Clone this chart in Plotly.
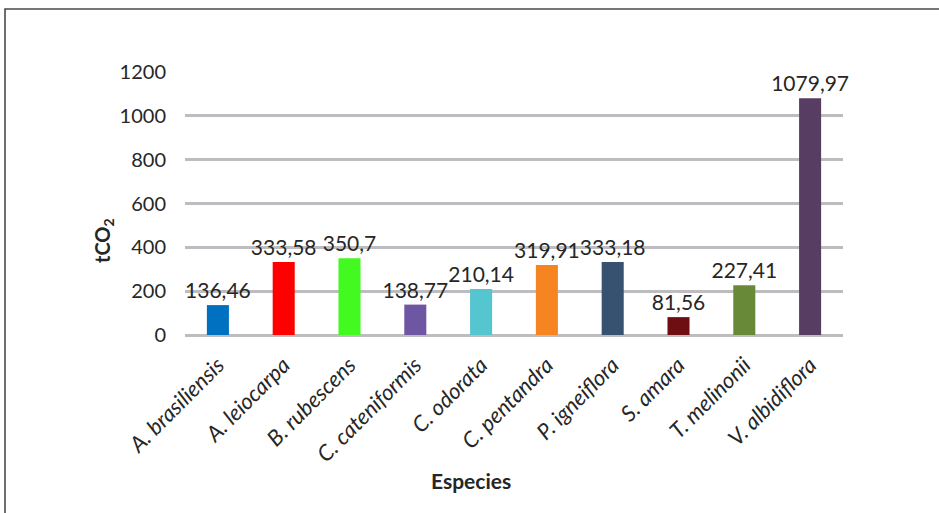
import plotly.graph_objects as go

# Carbon stock per species (tCO2)
especies = [
    "A. brasiliensis", "A. leiocarpa", "B. rubescens", "C. cateniformis",
    "C. odorata", "C. pentandra", "P. igneiflora", "S. amara",
    "T. melinonii", "V. albidiflora",
]
tco2 = [136.46, 333.58, 350.7, 138.77, 210.14, 319.91, 333.18, 81.56, 227.41, 1079.97]
colores = [
    "#0070C0", "#FF0000", "#42FA1F", "#6F56A3", "#55C5CF",
    "#F68421", "#375170", "#6E0E12", "#688A38", "#573D62",
]
y_ticks = [0, 200, 400, 600, 800, 1000, 1200]

W, H = 939, 513
ML, MR, MT, MB = 185, 96, 72, 178
pw, ph = W - ML - MR, H - MT - MB


def etiqueta(v):
    s = f"{v:.2f}".rstrip("0").rstrip(".")
    return s.replace(".", ",")


FONT = "Lato, Calibri, Carlito, sans-serif"
TXT = "#262626"

fig = go.Figure(
    go.Bar(
        x=especies,
        y=tco2,
        marker=dict(color=colores, line=dict(width=0)),
        text=[etiqueta(v) for v in tco2],
        textposition="outside",
        constraintext="none",
        textfont=dict(family=FONT, size=21, color=TXT),
        cliponaxis=False,
        hoverinfo="x+y",
    )
)


# pixel -> paper coordinate helpers
def px_x(x):
    return (x - ML) / pw


def px_y(y):
    return (H - MB - y) / ph


# outer chart frame (runs past the right and bottom edges of the page)
fig.add_shape(
    type="rect", xref="paper", yref="paper",
    x0=px_x(5), x1=px_x(W + 10), y0=px_y(H + 10), y1=px_y(9),
    line=dict(color="#4a4a4a", width=1.6), fillcolor="rgba(0,0,0,0)", layer="below",
)

# axis titles
fig.add_annotation(
    xref="paper", yref="paper", x=px_x(471), y=px_y(495),
    text="<b>Especies</b>", showarrow=False,
    font=dict(family=FONT, size=21, color=TXT),
)
fig.add_annotation(
    xref="paper", yref="paper", x=px_x(88), y=px_y(265),
    text="<b>tCO<sub>2</sub></b>", showarrow=False, textangle=-90,
    font=dict(family=FONT, size=20, color=TXT),
)

fig.update_layout(
    width=W, height=H,
    margin=dict(l=ML, r=MR, t=MT, b=MB, pad=0),
    paper_bgcolor="white", plot_bgcolor="white",
    bargap=0.665,
    showlegend=False,
    font=dict(family=FONT, color=TXT),
    xaxis=dict(
        tickangle=-45,
        tickfont=dict(family=FONT, size=22, style="italic", color=TXT),
        showgrid=False, showline=False, ticks="",
        ticklabelstandoff=12,
    ),
    yaxis=dict(
        range=[0, 1200],
        tickvals=y_ticks,
        tickfont=dict(family=FONT, size=20, color=TXT),
        ticklabelstandoff=18,
        showgrid=True, gridcolor="#BDBDC1", gridwidth=2.5,
        zeroline=True, zerolinecolor="#BDBDC1", zerolinewidth=2.5,
        showline=False, ticks="",
    ),
)

fig.write_html("out.html")
